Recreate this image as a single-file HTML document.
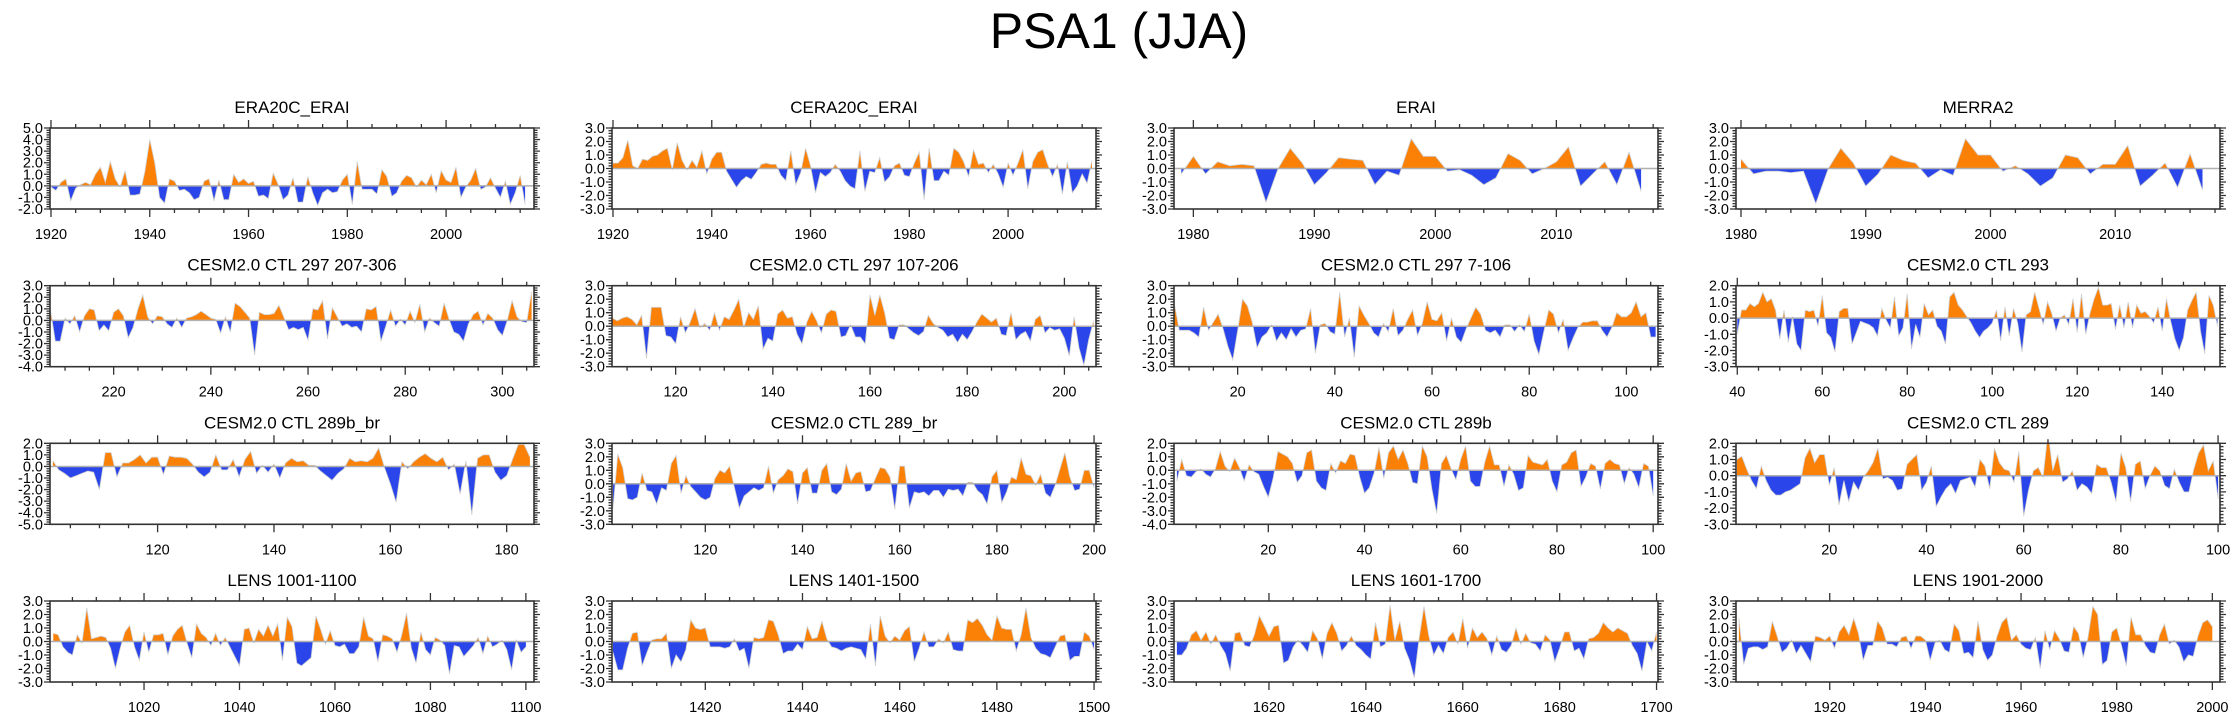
<!DOCTYPE html>
<html><head><meta charset="utf-8"><style>
html,body{margin:0;padding:0;background:#fff;}
svg{display:block;font-family:"Liberation Sans",Arial,sans-serif;}
</style></head>
<body>
<svg id="fig" width="2238" height="719" viewBox="0 0 2238 719">
<text x="1119" y="48" text-anchor="middle" font-size="50" fill="#000">PSA1 (JJA)</text>
</svg>
<script>
const titles = ["ERA20C_ERAI","CERA20C_ERAI","ERAI","MERRA2","CESM2.0 CTL 297 207-306","CESM2.0 CTL 297 107-206","CESM2.0 CTL 297 7-106","CESM2.0 CTL 293","CESM2.0 CTL 289b_br","CESM2.0 CTL 289_br","CESM2.0 CTL 289b","CESM2.0 CTL 289","LENS 1001-1100","LENS 1401-1500","LENS 1601-1700","LENS 1901-2000"];
const startYears = [1920,1920,1979,1980,207,107,7,40,102,101,1,1,1001,1401,1601,1901];
const xRanges = [[1919.8,2017.8],[1919.8,2017.8],[1978.4,2018.4],[1979.6,2018.4],[206.9,306.5],[106.9,206.5],[6.9,106.5],[39.7,153.6],[101.5,184.7],[100.8,200.4],[0.4,101],[0.8,100.4],[1000.3,1101.7],[1400.8,1500.4],[1600.4,1700.3],[1900.4,2001.6]];
const yRanges = [[-2,5],[-3,3],[-3,3],[-3,3],[-4,3],[-3,3],[-3,3],[-3,2],[-5,2],[-3,3],[-4,2],[-3,2],[-3,3],[-3,3],[-3,3],[-3,3]];
const xTickLabels = [[1920,1940,1960,1980,2000],[1920,1940,1960,1980,2000],[1980,1990,2000,2010],[1980,1990,2000,2010],[220,240,260,280,300],[120,140,160,180,200],[20,40,60,80,100],[40,60,80,100,120,140],[120,140,160,180],[120,140,160,180,200],[20,40,60,80,100],[20,40,60,80,100],[1020,1040,1060,1080,1100],[1420,1440,1460,1480,1500],[1620,1640,1660,1680,1700],[1920,1940,1960,1980,2000]];
const xMinorSteps = [5,5,2,2,5,5,5,5,5,5,5,5,5,5,5,5];

const s1 = [-0.1,-0.4,0.3,0.6,-1.3,-0.2,0.1,0.3,0.1,1.0,1.6,0.3,2.1,0.6,-0.1,1.3,-0.8,-0.8,-0.7,1.2,4.0,2.0,-1.0,-1.5,0.6,0.4,-0.4,-0.3,-0.6,-1.2,-1.0,0.4,0.6,-1.3,0.5,-1.2,-1.2,1.0,0.3,0.6,0.2,0.4,-0.9,-0.8,-1.1,1.1,0.1,-1.2,-0.8,0.7,-1.4,-1.4,0.8,-0.6,-1.7,-0.6,-0.3,-0.6,-0.5,0.5,1.0,-1.6,2.1,-0.3,-0.3,-0.3,-0.7,1.4,0.8,-0.9,-0.6,0.4,0.9,0.7,-0.1,0.5,0.1,1.0,-0.6,1.3,0.5,0.3,1.6,-1.0,-0.1,0.5,1.5,-0.3,-0.1,0.7,-0.2,-1.0,0.4,-1.6,-0.6,0.9,-1.6];
const s2 = [0.4,0.4,0.8,2.1,0.2,0.0,0.7,0.6,0.9,1.0,1.3,1.5,-0.1,1.9,0.6,-0.1,0.6,0.1,1.3,-0.4,0.7,1.2,1.2,-0.2,-0.8,-1.4,-0.9,-0.6,-0.8,-0.3,0.3,0.4,0.3,0.3,-0.5,-0.9,1.3,-1.2,-0.3,1.5,0.2,-1.8,-0.3,-0.6,-0.3,0.3,-0.2,-0.9,-1.3,-1.5,1.3,-1.7,-0.2,-0.3,0.8,-1.0,-0.6,0.2,0.4,-0.5,-0.6,0.4,1.2,-2.3,1.5,-0.9,-0.9,-0.2,-0.5,1.5,1.2,0.5,-0.6,1.4,0.3,0.4,-0.3,0.3,-0.4,-1.4,0.4,-0.5,0.4,1.4,-1.5,0.5,1.2,1.4,0.3,-0.6,0.3,-1.9,0.5,-1.8,-1.3,-0.4,-1.1,0.6,-1.6];
const s3 = [-0.4,0.9,-0.4,0.5,0.2,0.3,0.2,-2.5,0.0,1.5,0.4,-1.2,-0.3,0.8,0.7,0.6,-1.2,-0.2,-0.5,2.2,0.9,0.9,-0.2,-0.1,-0.5,-1.2,-0.7,1.1,0.6,-0.4,0.0,0.5,1.6,-1.3,-0.4,0.5,-1.2,1.2,-1.7];
const s4 = [0.7,-0.4,-0.2,-0.2,-0.3,-0.2,-2.6,0.0,1.5,0.4,-1.3,-0.4,1.0,0.6,0.4,-0.7,-0.1,-0.5,2.2,1.0,1.0,-0.2,0.2,-0.4,-1.3,-0.7,1.0,0.8,-0.4,0.3,0.3,1.7,-1.3,-0.5,0.4,-1.4,1.1,-1.6];
const s5 = [0.9,-1.8,-1.8,0.2,-0.3,0.4,-1.0,0.4,1.0,0.9,-0.9,-0.4,-0.9,0.7,1.0,0.4,-1.5,-0.6,1.0,2.2,0.3,-0.3,0.4,0.3,-0.3,-0.6,0.2,-0.6,0.2,0.3,0.5,0.8,0.5,0.2,0.1,-1.1,0.3,-1.0,1.5,1.2,0.7,0.2,-3.0,0.7,0.5,0.5,0.6,1.3,0.3,-0.8,-0.6,-0.8,-0.6,-1.7,1.0,0.9,1.7,-1.6,1.1,0.3,-0.5,-0.3,-0.6,-0.5,-1.0,1.0,0.9,1.2,-1.8,-0.5,0.9,-0.5,0.1,-0.4,0.8,-0.2,1.4,-1.0,0.2,-0.2,-0.5,1.5,0.1,-1.0,-1.2,-1.8,-0.3,0.5,0.8,-0.4,0.6,0.2,-0.8,-1.3,0.0,1.7,0.3,-0.1,-0.2,2.5];
const s6 = [0.6,0.4,0.6,0.7,0.5,0.1,0.8,-2.4,1.4,1.4,1.4,-0.7,-0.8,-1.3,0.7,-0.5,0.3,1.3,-0.1,0.2,-0.3,1.0,-0.3,0.7,0.5,1.2,2.0,-0.1,1.0,0.5,1.5,-1.7,-0.9,-1.1,0.9,1.2,0.6,0.7,-0.6,-1.3,0.3,1.1,0.4,-0.5,0.9,1.2,1.1,-0.8,-0.7,0.1,-0.8,-0.8,-1.3,2.3,0.8,2.3,1.0,-0.9,-1.0,0.1,0.1,-0.2,-0.5,-0.7,-0.4,0.8,0.2,-0.1,-0.3,-0.8,-0.6,-1.2,-0.6,-1.0,-0.4,0.3,0.9,0.6,0.3,0.6,-0.6,-0.7,1.0,-1.0,-0.6,-0.4,-1.1,0.5,0.8,-0.5,-0.1,-0.3,-0.2,-0.9,-2.2,0.7,-1.6,-2.9,-1.0,0.4];
const s7 = [1.6,-0.3,-0.3,-0.3,-0.5,-0.8,1.4,-0.3,0.3,0.9,-0.2,-1.5,-2.5,-0.3,2.0,1.5,0.3,-1.6,-0.8,-0.5,0.1,-1.1,-0.5,-1.0,-0.2,-0.8,-0.3,-0.2,1.3,-2.0,0.1,0.2,-0.4,-0.6,2.5,-0.8,0.6,-2.3,1.5,0.8,0.2,-0.5,-0.8,0.2,-0.4,1.3,-0.7,-0.3,0.5,1.2,-0.7,0.2,1.8,0.5,0.4,1.0,-1.1,0.6,-0.8,-1.2,-0.2,0.6,1.4,0.9,-0.3,-0.5,-0.3,-0.8,0.1,0.1,-0.4,0.1,-0.4,0.9,-1.1,-2.1,-0.4,1.2,0.9,-0.5,0.5,-1.8,-0.9,-0.1,0.3,0.3,0.4,0.4,-0.3,-0.8,-0.1,1.0,0.7,0.7,1.0,1.8,0.7,1.0,-0.8,-0.8];
const s8 = [-1.0,0.5,0.5,0.9,0.7,0.9,1.6,1.0,1.2,0.5,-1.3,0.5,-1.5,0.1,-1.6,-2.0,0.5,0.4,0.5,-0.5,1.4,-0.9,-1.2,-2.1,0.4,0.6,0.6,-1.6,-0.9,-0.2,-0.3,-0.4,-0.6,-1.1,0.6,-0.1,-0.6,1.3,-1.1,-0.6,1.5,-1.9,-0.4,-1.2,0.9,0.2,0.5,-0.5,-0.8,-1.6,1.3,1.6,0.8,0.5,0.1,-0.3,-0.8,-1.2,-0.8,-0.6,-0.3,0.5,-1.4,0.7,-1.1,0.6,-0.3,-2.1,0.2,0.4,1.6,0.6,-0.4,1.0,0.3,-0.8,0.0,0.2,-0.4,1.2,-0.9,1.5,-1.0,0.3,1.2,1.9,0.8,0.8,0.9,-0.7,0.8,-0.6,1.0,-0.6,0.8,0.3,0.4,0.1,-0.3,0.7,-0.8,1.2,-0.2,-1.3,-2.0,-1.2,0.5,1.1,1.6,-0.8,-2.2,1.4,0.8,-0.5];
const s9 = [0.5,-0.3,-0.6,-1.0,-0.8,-0.6,-0.4,-0.5,-2.0,1.2,1.2,-0.9,0.3,0.3,0.6,1.0,0.3,0.8,0.8,-0.7,0.9,0.8,0.8,0.7,0.2,-0.5,-0.9,-0.5,1.0,-0.3,-0.3,0.6,-0.9,0.6,1.3,-0.6,0.1,-0.5,0.2,-1.0,0.3,0.7,0.4,0.5,0.1,0.1,-0.4,-0.8,-1.2,-0.6,-0.2,0.7,0.4,0.5,0.4,0.7,1.6,-0.1,-1.5,-3.1,0.4,-0.2,0.4,0.8,1.1,0.7,0.4,0.8,-0.3,0.2,-2.4,0.5,-4.2,0.7,1.0,1.0,-0.5,-1.2,-0.8,0.6,1.9,1.9,0.8];
const s10 = [-1.8,2.2,1.2,-1.1,-1.2,-1.0,0.8,-0.5,-0.6,-1.5,-0.3,-0.5,1.5,2.1,-0.7,0.6,-0.2,-0.6,-1.0,-1.2,-1.0,0.4,1.0,0.8,1.3,-0.3,-1.8,-0.9,-0.6,-0.3,-0.5,-0.3,1.3,-0.7,0.3,0.6,1.1,0.9,-1.5,0.8,1.2,-0.7,-0.7,1.0,1.5,-0.6,-0.8,-0.4,1.5,0.2,0.8,0.9,-0.6,-0.5,0.4,1.2,1.1,0.5,-1.9,1.3,1.3,-1.8,-0.6,-0.7,-0.6,-0.9,-0.5,-0.5,-1.0,-0.4,-0.5,-0.4,-0.9,0.1,0.1,-0.5,-0.8,-1.5,0.5,1.0,-1.4,-0.6,0.5,0.3,1.9,0.7,0.6,-0.1,0.7,-0.7,-1.0,-0.1,1.1,2.3,0.5,-0.5,-0.4,1.0,1.0,-0.3];
const s11 = [-0.8,0.8,-0.4,-0.5,-0.1,0.1,-0.3,-0.5,0.1,1.4,0.3,-0.1,0.9,0.2,-0.8,0.4,-0.1,-0.3,-1.2,-2.0,-0.6,1.4,1.2,1.0,0.5,-0.9,-0.4,1.3,1.5,-0.8,-1.3,-1.5,0.5,-0.2,0.7,0.5,1.2,1.1,-0.5,-1.7,-1.3,-0.2,1.7,-0.6,1.3,1.8,0.8,1.5,0.5,-0.9,-1.0,1.8,1.0,-1.4,-3.2,0.5,1.1,0.1,-0.7,0.8,1.8,-0.8,-1.2,-1.2,0.6,1.8,0.4,0.4,-1.2,0.4,-0.3,-1.5,-1.3,1.1,0.6,0.5,0.4,0.8,-0.8,-1.6,0.4,0.6,1.3,1.5,-1.2,-0.5,0.5,0.3,-1.4,0.5,0.8,0.5,0.4,-1.0,0.2,-0.3,-1.3,0.5,0.3,-1.9];
const s12 = [1.0,1.2,0.4,-0.3,-0.8,0.6,-0.3,-0.9,-1.2,-1.2,-1.0,-0.9,-0.7,-0.5,1.1,1.7,0.8,1.3,1.3,-0.6,0.5,-1.8,-0.3,-1.6,-0.4,-0.9,-0.1,0.3,0.8,1.7,-0.2,-0.1,-0.3,-0.9,-0.8,0.7,1.0,1.3,-0.9,-0.4,0.6,-1.9,-1.3,-0.8,-0.5,-1.1,-0.3,-0.2,-0.1,-0.7,1.0,0.6,-0.8,1.7,0.8,0.4,0.3,-0.4,1.5,-2.5,-0.9,0.3,0.5,-0.1,2.7,0.3,1.3,-0.4,-0.2,0.3,-0.9,-0.5,-0.7,-1.1,0.7,0.5,0.5,-0.4,-1.6,1.4,0.5,-1.6,0.7,0.9,-0.8,0.0,0.6,0.3,-0.6,-0.8,0.4,-0.4,-1.0,-1.0,0.4,1.4,1.9,0.3,0.9,-1.4];
const s13 = [0.6,0.5,-0.4,-0.8,-1.0,0.5,-0.1,2.5,0.2,0.3,0.4,0.3,-0.5,-2.0,-0.5,0.7,1.2,-0.4,-1.4,0.7,-0.8,0.5,0.5,0.6,-1.0,0.4,0.9,1.2,-0.1,-1.2,1.3,0.6,0.3,-0.3,0.6,-0.3,0.3,-0.4,-1.1,-1.8,0.9,1.0,-0.1,0.9,0.4,1.2,0.4,1.3,-1.4,1.8,1.1,-1.6,-1.8,-1.5,-1.2,1.9,0.9,-0.2,0.8,-0.3,-0.4,-0.2,-0.9,-0.9,-0.4,1.8,0.4,0.2,-1.5,0.5,0.4,0.2,-0.8,0.5,2.1,-0.5,-1.6,0.7,-0.6,-1.0,0.3,0.1,-0.3,-2.4,-0.3,-0.4,-1.1,-0.7,-0.3,0.3,-0.9,0.4,-0.4,-0.2,0.1,-0.6,-2.1,0.1,-0.8,-0.4];
const s14 = [-0.8,-2.1,-2.1,-0.5,0.6,0.7,-1.8,-0.8,0.1,0.2,0.2,0.6,-2.0,-1.0,-1.5,-0.6,1.6,1.0,0.9,1.0,-0.4,-0.4,-0.4,-0.5,-0.4,0.2,-0.7,-0.5,-2.0,0.3,0.2,0.3,1.6,1.5,0.5,-0.9,-0.7,-0.7,-0.2,-0.6,1.1,0.2,0.3,1.5,0.2,-0.4,-0.5,-0.7,-0.5,-0.4,-0.5,-0.6,-1.3,1.3,-1.8,1.9,0.4,-0.1,0.4,0.1,0.8,1.1,-1.5,-0.5,0.7,-0.4,-0.4,0.2,-0.1,0.7,-0.6,-0.7,-0.7,1.6,1.4,1.7,1.2,0.5,0.1,1.9,1.0,0.9,0.9,-0.7,0.5,2.5,0.3,-0.5,-0.9,-1.0,-1.2,-0.4,0.4,0.5,-1.4,-1.1,-1.1,0.7,0.4,-0.6];
const s15 = [-1.0,-1.0,-0.5,0.5,0.8,0.1,0.7,-0.2,0.5,-0.3,-0.9,-2.2,0.6,0.7,-0.3,-0.4,0.5,1.9,1.2,0.4,1.1,1.2,-1.6,-1.4,-0.4,0.1,-0.3,-0.8,0.8,0.2,-1.3,0.6,1.4,0.6,-0.7,-0.3,0.4,-0.3,-0.6,-1.0,-1.3,1.4,-0.4,-0.2,2.7,0.1,1.5,-0.5,-1.4,-2.7,0.2,2.6,0.4,-1.0,-0.3,-0.9,0.3,0.7,-0.2,1.7,-0.5,1.0,0.3,0.7,0.2,-1.0,0.4,-0.6,-0.8,-0.3,1.0,-0.2,0.6,-0.1,-0.2,-0.7,0.5,0.1,-1.5,-0.5,0.7,0.7,-0.7,-0.5,-1.3,0.2,0.3,0.6,1.4,1.0,0.7,1.0,0.8,0.6,-0.3,-0.9,-2.2,0.0,-0.7,0.7];
const s16 = [1.7,-1.7,-0.5,-0.4,-0.4,-0.6,-0.4,1.5,0.4,-0.8,-0.5,0.1,-0.9,-0.3,-0.9,-1.5,0.4,0.3,0.1,0.4,-0.5,0.7,1.2,0.5,1.7,0.6,-1.4,-0.3,-0.3,1.5,1.0,-0.2,-0.2,-0.4,0.3,0.4,-0.5,0.4,0.4,0.1,-1.4,-0.1,0.1,-0.6,-0.8,1.3,0.8,-0.9,-0.8,-1.2,1.5,-0.6,-1.4,-1.0,0.4,1.4,1.8,0.1,0.5,-0.2,-0.5,-0.6,0.3,-2.0,0.8,-0.6,0.8,0.2,-0.7,-0.8,1.1,0.6,-1.2,0.3,2.6,2.0,-1.7,-1.4,0.7,1.0,-0.3,-1.8,1.8,0.5,0.5,-0.3,-0.8,-0.9,0.5,1.3,-0.2,0.1,-0.4,-1.5,-1.0,-1.1,0.4,1.4,1.6,1.1];
const seriesValues = [s1,s2,s3,s4,s5,s6,s7,s8,s9,s10,s11,s12,s13,s14,s15,s16];

const NS = "http://www.w3.org/2000/svg";
const svg = document.getElementById("fig");
const colLeft = [50, 612, 1174, 1736];
const rowTop = [128, 285.7, 443.3, 601];
const W = 484, H = 81;
const ORANGE = "#fb8006", BLUE = "#2a45ea";

function mk(tag, attrs, parent) {
  const e = document.createElementNS(NS, tag);
  for (const k in attrs) e.setAttribute(k, attrs[k]);
  parent.appendChild(e);
  return e;
}

for (let p = 0; p < 16; p++) {
  const L = colLeft[p % 4], T = rowTop[Math.floor(p / 4)];
  const [x0, x1] = xRanges[p], [y0, y1] = yRanges[p];
  const sx = v => L + (v - x0) / (x1 - x0) * W;
  const sy = v => T + H - (v - y0) / (y1 - y0) * H;
  const g = mk("g", {}, svg);
  
  

  const t = mk("text", {x: L + W / 2, y: T - 15, "text-anchor": "middle", "font-size": 17, fill: "#000"}, g);
  t.textContent = titles[p];
  
  

  const clipId = "c" + p;
  const defs = mk("defs", {}, g);
  const cp = mk("clipPath", {id: clipId}, defs);
  mk("rect", {x: L, y: T, width: W, height: H}, cp);
  const zy = sy(0);
  const cpA = mk("clipPath", {id: clipId + "a"}, defs);
  mk("rect", {x: L, y: T - 5, width: W, height: zy - T + 5}, cpA);
  const cpB = mk("clipPath", {id: clipId + "b"}, defs);
  mk("rect", {x: L, y: zy, width: W, height: T + H - zy + 5}, cpB);

  const vals = seriesValues[p];
  let pts = [];
  for (let i = 0; i < vals.length; i++) {
    const yr = startYears[p] + i;
    if (yr > x1) break;
    pts.push([sx(yr), sy(vals[i])]);
  }
  const line = pts.map((q, i) => (i ? "L" : "M") + q[0].toFixed(1) + "," + q[1].toFixed(1)).join("");
  const area = "M" + pts[0][0].toFixed(1) + "," + zy.toFixed(1) + line.replace(/^M/, "L") + "L" + pts[pts.length - 1][0].toFixed(1) + "," + zy.toFixed(1) + "Z";
  const gc = mk("g", {"clip-path": "url(#" + clipId + ")"}, g);
  const pa = mk("path", {d: area, fill: ORANGE, "clip-path": "url(#" + clipId + "a)"}, gc);
  
  
  const pb = mk("path", {d: area, fill: BLUE, "clip-path": "url(#" + clipId + "b)"}, gc);
  
  
  mk("path", {d: line, fill: "none", stroke: "#d0d0d0", "stroke-width": 0.8}, gc);
  const zl = mk("line", {x1: L, x2: L + W, y1: zy, y2: zy, stroke: "#b0b0b0", "stroke-width": 1.5}, g);
  
  

  const fr = mk("rect", {x: L, y: T, width: W, height: H, fill: "none", stroke: "#333", "stroke-width": 1.6}, g);
  
  

  // y ticks
  let d = "";
  for (let k = Math.round(y0 * 5); k <= Math.round(y1 * 5); k++) {
    const v = k / 5, yy = sy(v), major = k % 5 === 0, len = major ? 6 : 3.5;
    d += "M" + (L - len) + "," + yy + "L" + L + "," + yy + "M" + (L + W) + "," + yy + "L" + (L + W + len) + "," + yy;
    if (major) {
      const yl = mk("text", {x: L - 7, y: yy + 5, "text-anchor": "end", "font-size": 14.5, fill: "#000"}, g);
      yl.textContent = v.toFixed(1);
      
      
    }
  }
  // x ticks
  const ms = xMinorSteps[p];
  for (let v = Math.ceil(x0 / ms) * ms; v <= x1; v += ms) {
    const xx = sx(v), major = xTickLabels[p].includes(v), len = major ? 8 : 4;
    d += "M" + xx + "," + (T - len) + "L" + xx + "," + T + "M" + xx + "," + (T + H) + "L" + xx + "," + (T + H + len);
  }
  mk("path", {d: d, stroke: "#333", "stroke-width": 1.3, fill: "none"}, g);
  xTickLabels[p].forEach(v => {
    const xl = mk("text", {x: sx(v), y: T + H + 30, "text-anchor": "middle", "font-size": 14.5, fill: "#000"}, g);
    xl.textContent = v;
    
    
  });
}
</script>
</body></html>
